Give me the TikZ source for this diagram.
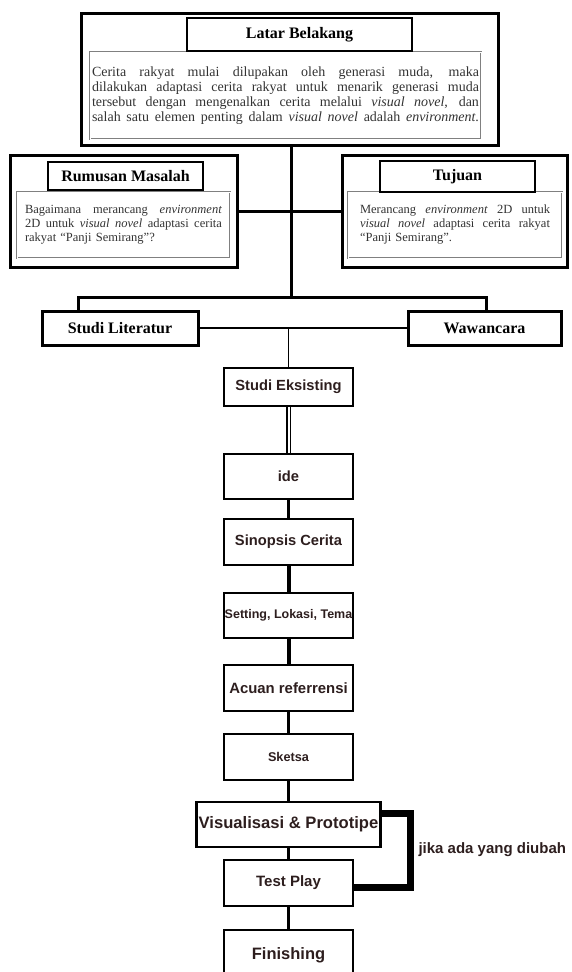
\documentclass[tikz,border=0pt]{standalone}
\usepackage{fontspec}
\setmainfont{Liberation Serif}
\newfontfamily\flowfont{Liberation Sans}
\definecolor{flowtext}{RGB}{45,30,30}
\newcommand{\jline}[2]{\leavevmode\hbox to #1{\spaceskip=0.25em plus 1fil\relax #2}}

\begin{document}
\begin{tikzpicture}
    [x=1pt, y=-1pt,
    outerbox/.style={draw, line width=3pt, inner sep=0pt},
    titlebox/.style={draw, line width=2.6pt, fill=white, inner sep=0pt, font=\bfseries\fontsize{16}{18}\selectfont},
    textbox/.style={draw=gray, double, double distance=1pt, line width=0.6pt, fill=white, inner sep=0pt, align=left, text=black!80},
    flowbox/.style={draw, line width=2.4pt, inner sep=0pt, minimum width=129pt, minimum height=46pt, text=flowtext},
    link/.style={line width=3pt},
    loopline/.style={line width=7pt, line join=miter}]
    \useasboundingbox (0,0) rectangle (571,972);

        %% Latar Belakang
    \node[outerbox, minimum width=417pt, minimum height=132pt] (latar) at (289.5,79) {};
    \node[textbox, minimum width=391pt, minimum height=87pt, text width=387pt,
          font=\fontsize{14}{15}\selectfont] (latartext) at (285.5,95.5)
        {\jline{387pt}{Cerita rakyat mulai dilupakan oleh generasi muda, maka}\\
         \jline{387pt}{dilakukan adaptasi cerita rakyat untuk menarik generasi muda}\\
         \jline{387pt}{tersebut dengan mengenalkan cerita melalui \emph{visual novel}, dan}\\
         \jline{387pt}{salah satu elemen penting dalam \emph{visual novel} adalah \emph{environment}.}};
    \node[titlebox, minimum width=225pt, minimum height=33pt] (latartitle) at (299.5,34.5) {Latar Belakang};

        %% Rumusan Masalah
    \node[outerbox, minimum width=227pt, minimum height=112pt] (rumusan) at (123.5,211) {};
    \node[textbox, minimum width=213pt, minimum height=66pt, text width=197pt,
          font=\fontsize{12.5}{14}\selectfont] (rumusantext) at (123.5,225)
        {\jline{197pt}{Bagaimana merancang \emph{environment}}\\
         \jline{197pt}{2D untuk \emph{visual novel} adaptasi cerita}\\
         rakyat “Panji Semirang”?};
    \node[titlebox, minimum width=155pt, minimum height=28pt] (rumusantitle) at (125.5,176) {Rumusan Masalah};

        %% Tujuan
    \node[outerbox, minimum width=225pt, minimum height=112pt] (tujuan) at (454.5,211) {};
    \node[textbox, minimum width=214pt, minimum height=66pt, text width=190pt,
          font=\fontsize{12.5}{14}\selectfont] (tujuantext) at (455,225)
        {\jline{190pt}{Merancang \emph{environment} 2D untuk}\\
         \jline{190pt}{\emph{visual novel} adaptasi cerita rakyat}\\
         “Panji Semirang”.};
    \node[titlebox, minimum width=155pt, minimum height=31pt] (tujuantitle) at (457.5,176.5) {Tujuan};

        %% Studi Literatur, Wawancara
    \node[outerbox, minimum width=156pt, minimum height=34pt, font=\bfseries\fontsize{16}{18}\selectfont] (lit) at (120,328) {Studi Literatur};
    \node[outerbox, minimum width=153pt, minimum height=34pt, font=\bfseries\fontsize{16}{18}\selectfont] (waw) at (484.5,328) {Wawancara};
    \coordinate (fork) at (291,297);

        %% Alur perancangan
    \node[flowbox, font=\flowfont\bfseries\fontsize{14.7}{17}\selectfont, minimum height=38pt] (eksisting) at (288.5,387) {Studi Eksisting};
    \node[flowbox, font=\flowfont\bfseries\fontsize{14.7}{17}\selectfont, minimum height=45pt] (ide) at (288.5,476.5) {ide};
    \node[flowbox, font=\flowfont\bfseries\fontsize{14.7}{17}\selectfont] (sinopsis) at (288.5,542) {Sinopsis Cerita};
    \node[flowbox, font=\flowfont\bfseries\fontsize{12.5}{15}\selectfont, minimum height=45pt] (setting) at (288.5,615.5) {Setting, Lokasi, Tema};
    \node[flowbox, font=\flowfont\bfseries\fontsize{14.9}{17}\selectfont] (acuan) at (288.5,688) {Acuan referrensi};
    \node[flowbox, font=\flowfont\bfseries\fontsize{12.7}{15}\selectfont] (sketsa) at (288.5,757) {Sketsa};
    \node[flowbox, font=\flowfont\bfseries\fontsize{16.6}{19}\selectfont, minimum width=184pt, minimum height=45pt] (visual) at (288.5,824.5) {Visualisasi \& Prototipe};
    \node[flowbox, font=\flowfont\bfseries\fontsize{15}{17}\selectfont] (test) at (288.5,883) {Test Play};
    \node[flowbox, font=\flowfont\bfseries\fontsize{16.5}{19}\selectfont, minimum height=50pt] (finishing) at (288.5,955) {Finishing};
    \coordinate (loop) at (410,850);
    \node[anchor=west, text=flowtext, font=\flowfont\bfseries\fontsize{15}{17}\selectfont] (ubah) at (415,850) {jika ada yang diubah};

        \draw[link] (latar.south -| fork) -- (fork);
        \draw[link] (rumusan.east) -- (tujuan.west);
        \draw[link] ([xshift=-42pt]lit.north) |- (fork) -| ([xshift=1.5pt]waw.north);
        \draw[line width=2.5pt] (lit.east) -- (waw.west);
        \draw[line width=1.7pt] (lit.east -| eksisting.north) -- (eksisting.north);
        \draw[line width=1.5pt, double, double distance=2pt] (eksisting) -- (ide);
        \draw[line width=2.5pt] (ide) -- (sinopsis);
        \draw[line width=4pt] (sinopsis) -- (setting);
        \draw[line width=4pt] (setting) -- (acuan);
        \draw[line width=3pt] (acuan) -- (sketsa);
        \draw[line width=3pt] (sketsa) -- (visual);
        \draw[line width=3pt] (visual) -- (test);
        \draw[line width=3pt] (test) -- (finishing);
        \draw[loopline] ([yshift=11.5pt]visual.east) -| (loop) |- ([yshift=-4pt]test.east);
    \end{tikzpicture}
\end{document}
